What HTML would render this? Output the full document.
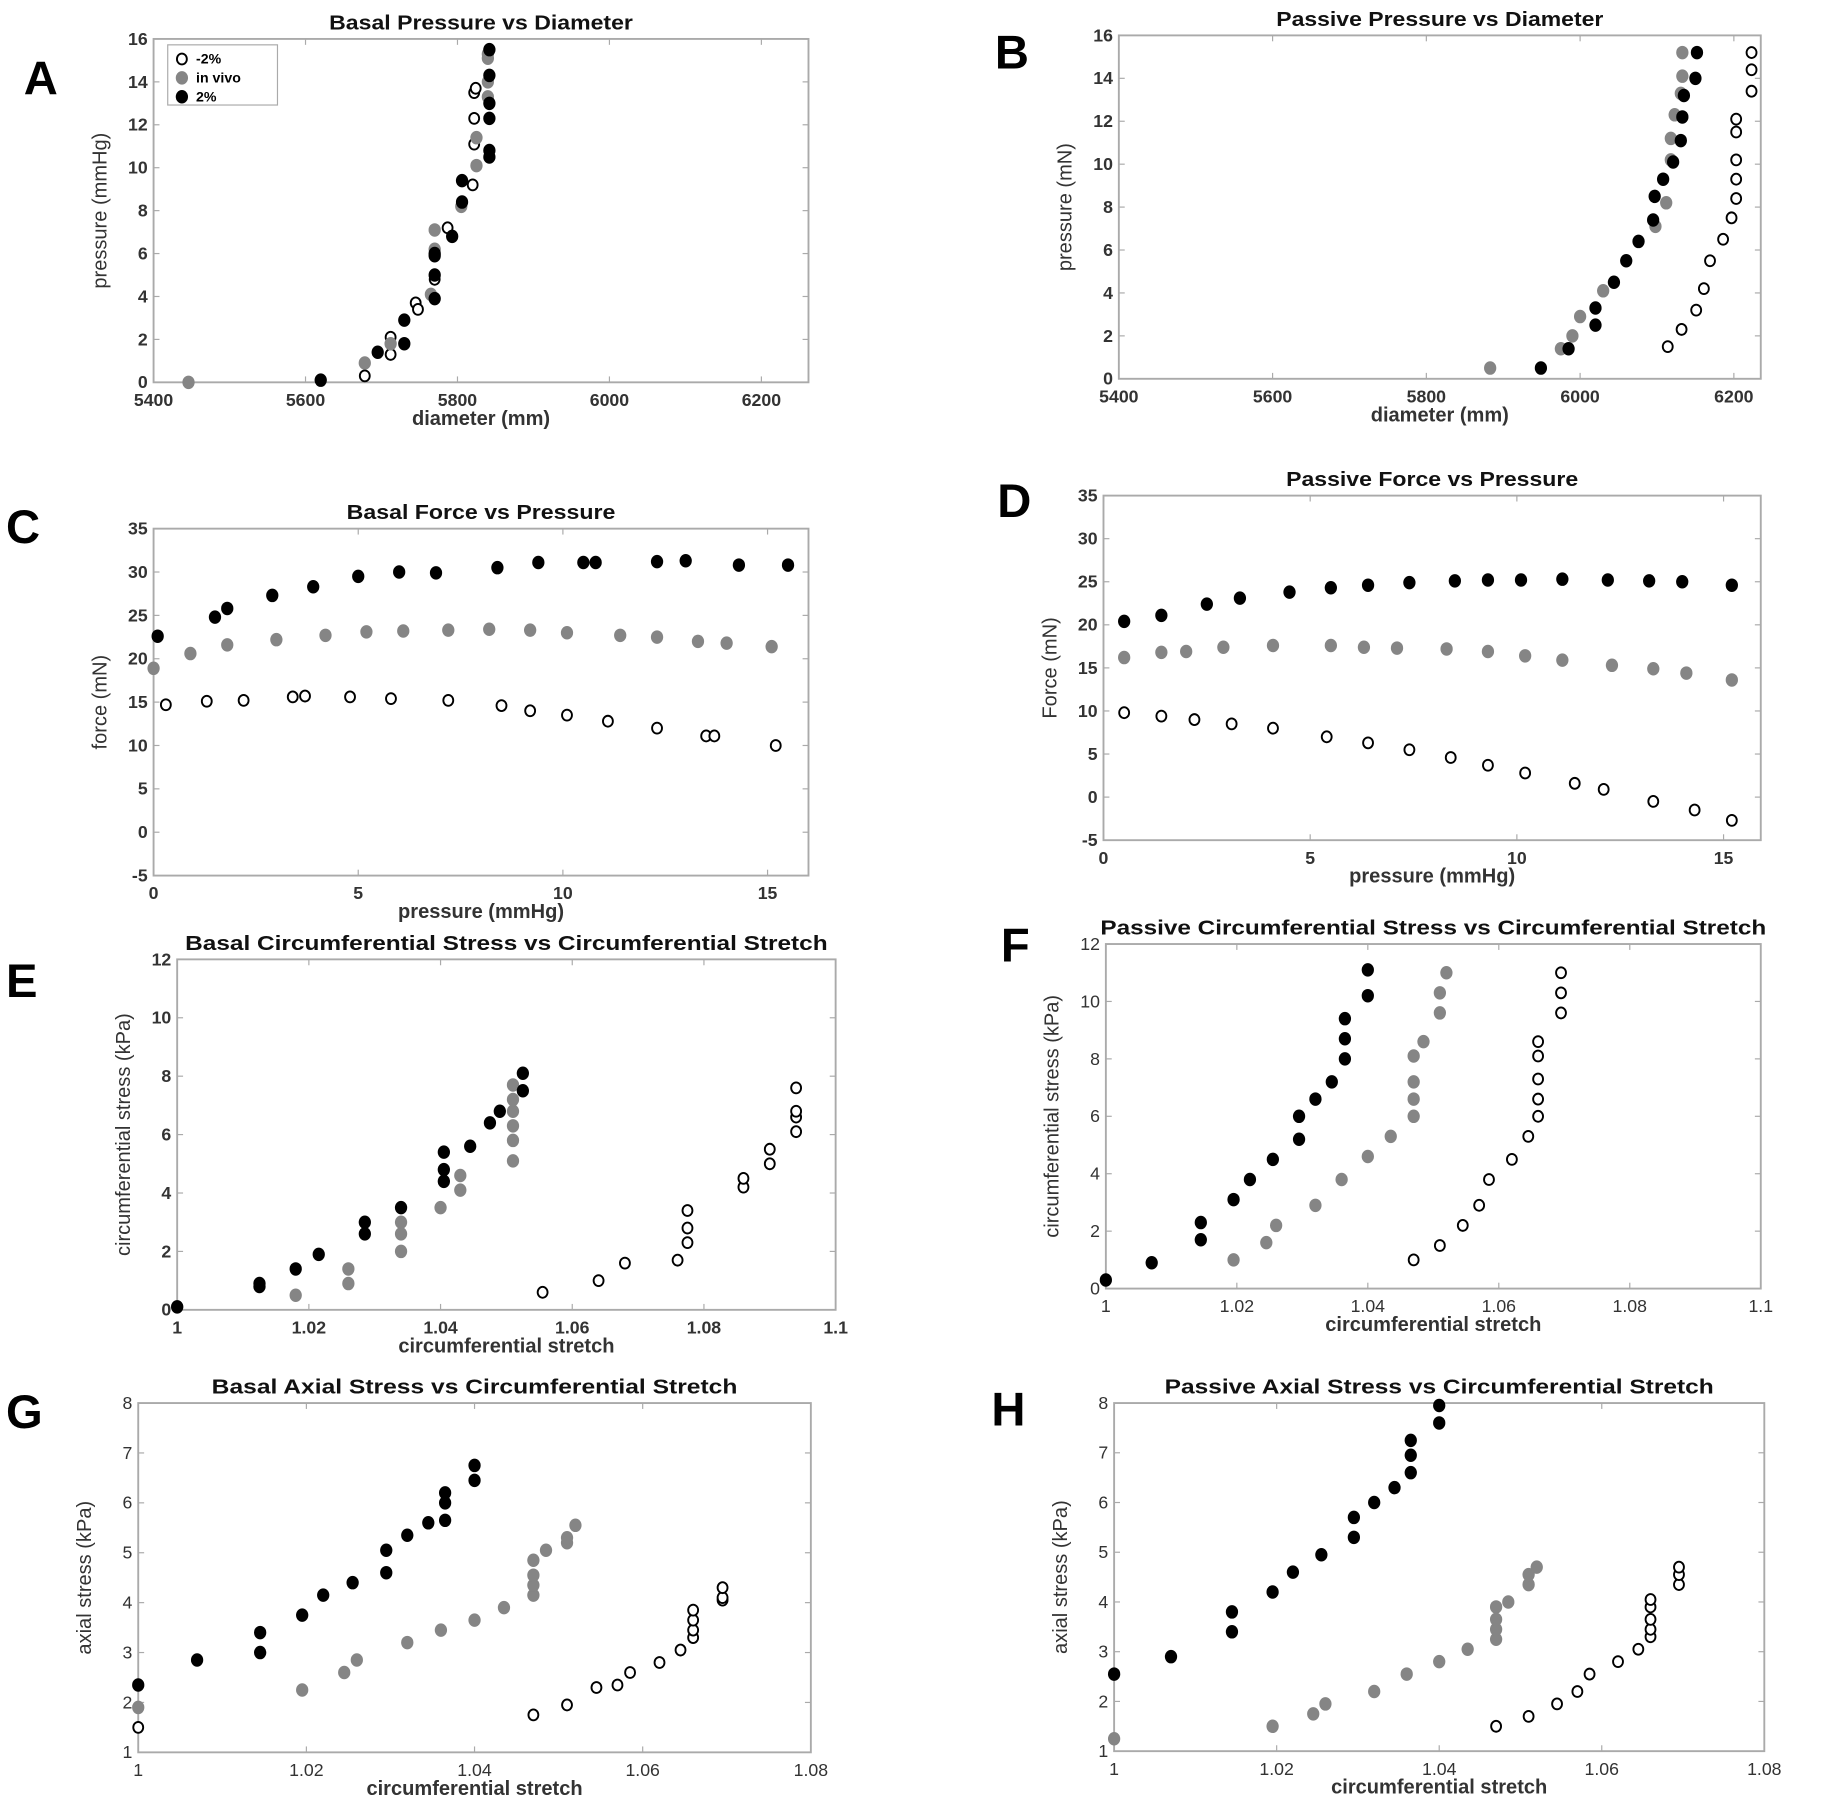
<!DOCTYPE html>
<html><head><meta charset="utf-8"><style>
html,body{margin:0;padding:0;background:#fff}
svg{display:block}
text{font-family:"Liberation Sans",sans-serif}
</style></head><body>
<svg id="fig" width="1840" height="1796" viewBox="0 0 1559 1522" xmlns="http://www.w3.org/2000/svg"></svg>
<script>
// ---- Data arrays ----
const A_neg=[[5678,0.3],[5712,1.3],[5712,2.1],[5745,3.7],[5748,3.4],[5770,4.8],[5787,7.2],[5820,9.2],[5822,11.1],[5822,12.3],[5822,13.5],[5824,13.7]];
const A_viv=[[5446,0],[5678,0.9],[5712,1.8],[5765,4.1],[5770,6.2],[5770,7.1],[5805,8.2],[5825,10.1],[5825,11.4],[5840,13.3],[5840,14],[5840,15.1],[5840,15.3]];
const A_pos=[[5620,0.1],[5695,1.4],[5730,1.8],[5730,2.9],[5770,3.9],[5770,5],[5770,5.9],[5770,6],[5793,6.8],[5806,8.4],[5806,9.4],[5842,10.5],[5842,10.8],[5842,12.3],[5842,13],[5842,14.3],[5842,15.5]];
const B_neg=[[6114,1.5],[6132,2.3],[6151,3.2],[6161,4.2],[6169,5.5],[6186,6.5],[6197,7.5],[6203,8.4],[6203,9.3],[6203,10.2],[6203,11.5],[6203,12.1],[6223,13.4],[6223,14.4],[6223,15.2]];
const B_viv=[[5883,0.5],[5975,1.4],[5990,2.0],[6000,2.9],[6030,4.1],[6098,7.1],[6112,8.2],[6118,10.2],[6118,11.2],[6123,12.3],[6131,13.3],[6133,14.1],[6133,15.2]];
const B_pos=[[5949,0.5],[5985,1.4],[6020,2.5],[6020,3.3],[6044,4.5],[6060,5.5],[6076,6.4],[6095,7.4],[6097,8.5],[6108,9.3],[6121,10.1],[6131,11.1],[6133,12.2],[6135,13.2],[6150,14],[6152,15.2]];
const C_neg=[[0.3,14.7],[1.3,15.1],[2.2,15.2],[3.4,15.6],[3.7,15.7],[4.8,15.6],[5.8,15.4],[7.2,15.2],[8.5,14.6],[9.2,14],[10.1,13.5],[11.1,12.8],[12.3,12],[13.5,11.1],[13.7,11.1],[15.2,10]];
const C_viv=[[0,18.9],[0.9,20.6],[1.8,21.6],[3,22.2],[4.2,22.7],[5.2,23.1],[6.1,23.2],[7.2,23.3],[8.2,23.4],[9.2,23.3],[10.1,23],[11.4,22.7],[12.3,22.5],[13.3,22],[14,21.8],[15.1,21.4]];
const C_pos=[[0.1,22.6],[1.5,24.8],[1.8,25.8],[2.9,27.3],[3.9,28.3],[5,29.5],[6,30],[6.9,29.9],[8.4,30.5],[9.4,31.1],[10.5,31.1],[10.8,31.1],[12.3,31.2],[13,31.3],[14.3,30.8],[15.5,30.8]];
const D_neg=[[0.5,9.8],[1.4,9.4],[2.2,9],[3.1,8.5],[4.1,8],[5.4,7],[6.4,6.3],[7.4,5.5],[8.4,4.6],[9.3,3.7],[10.2,2.8],[11.4,1.6],[12.1,0.9],[13.3,-0.5],[14.3,-1.5],[15.2,-2.7]];
const D_viv=[[0.5,16.2],[1.4,16.8],[2,16.9],[2.9,17.4],[4.1,17.6],[5.5,17.6],[6.3,17.4],[7.1,17.3],[8.3,17.2],[9.3,16.9],[10.2,16.4],[11.1,15.9],[12.3,15.3],[13.3,14.9],[14.1,14.4],[15.2,13.6]];
const D_pos=[[0.5,20.4],[1.4,21.1],[2.5,22.4],[3.3,23.1],[4.5,23.8],[5.5,24.3],[6.4,24.6],[7.4,24.9],[8.5,25.1],[9.3,25.2],[10.1,25.2],[11.1,25.3],[12.2,25.2],[13.2,25.1],[14,25],[15.2,24.6]];
const E_neg=[[1.0555,0.6],[1.064,1.0],[1.068,1.6],[1.076,1.7],[1.0775,2.3],[1.0775,2.8],[1.0775,3.4],[1.086,4.2],[1.086,4.5],[1.090,5.0],[1.090,5.5],[1.094,6.1],[1.094,6.6],[1.094,6.8],[1.094,7.6]];
const E_viv=[[1.0,0.1],[1.018,0.5],[1.026,0.9],[1.026,1.4],[1.034,2.0],[1.034,2.6],[1.034,3.0],[1.040,3.5],[1.043,4.1],[1.043,4.6],[1.051,5.1],[1.051,5.8],[1.051,6.3],[1.051,6.8],[1.051,7.2],[1.051,7.7]];
const E_pos=[[1.0,0.1],[1.0125,0.8],[1.0125,0.9],[1.018,1.4],[1.0215,1.9],[1.0285,2.6],[1.0285,3.0],[1.034,3.5],[1.0405,4.4],[1.0405,4.8],[1.0405,5.4],[1.0445,5.6],[1.0475,6.4],[1.049,6.8],[1.0525,7.5],[1.0525,8.1]];
const F_neg=[[1.047,1.0],[1.051,1.5],[1.0545,2.2],[1.057,2.9],[1.0585,3.8],[1.062,4.5],[1.0645,5.3],[1.066,6.0],[1.066,6.6],[1.066,7.3],[1.066,8.1],[1.066,8.6],[1.0695,9.6],[1.0695,10.3],[1.0695,11.0]];
const F_viv=[[1.0195,1.0],[1.0245,1.6],[1.026,2.2],[1.032,2.9],[1.036,3.8],[1.040,4.6],[1.0435,5.3],[1.047,6.0],[1.047,6.6],[1.047,7.2],[1.047,8.1],[1.0485,8.6],[1.051,9.6],[1.051,10.3],[1.052,11.0]];
const F_pos=[[1.0,0.3],[1.007,0.9],[1.0145,1.7],[1.0145,2.3],[1.0195,3.1],[1.022,3.8],[1.0255,4.5],[1.0295,5.2],[1.0295,6.0],[1.032,6.6],[1.0345,7.2],[1.0365,8.0],[1.0365,8.7],[1.0365,9.4],[1.040,10.2],[1.040,11.1]];
const G_neg=[[1.0,1.5],[1.047,1.75],[1.051,1.95],[1.0545,2.3],[1.057,2.35],[1.0585,2.6],[1.062,2.8],[1.0645,3.05],[1.066,3.3],[1.066,3.45],[1.066,3.65],[1.066,3.85],[1.0695,4.05],[1.0695,4.1],[1.0695,4.3]];
const G_viv=[[1.0,1.9],[1.0195,2.25],[1.0245,2.6],[1.026,2.85],[1.032,3.2],[1.036,3.45],[1.040,3.65],[1.0435,3.9],[1.047,4.15],[1.047,4.35],[1.047,4.55],[1.047,4.85],[1.0485,5.05],[1.051,5.2],[1.051,5.3],[1.052,5.55]];
const G_pos=[[1.0,2.35],[1.007,2.85],[1.0145,3.0],[1.0145,3.4],[1.0195,3.75],[1.022,4.15],[1.0255,4.4],[1.0295,4.6],[1.0295,5.05],[1.032,5.35],[1.0345,5.6],[1.0365,5.65],[1.0365,6.0],[1.0365,6.2],[1.040,6.45],[1.040,6.75]];
const H_neg=[[1.047,1.5],[1.051,1.7],[1.0545,1.95],[1.057,2.2],[1.0585,2.55],[1.062,2.8],[1.0645,3.05],[1.066,3.3],[1.066,3.45],[1.066,3.65],[1.066,3.9],[1.066,4.05],[1.0695,4.35],[1.0695,4.55],[1.0695,4.7]];
const H_viv=[[1.0,1.25],[1.0195,1.5],[1.0245,1.75],[1.026,1.95],[1.032,2.2],[1.036,2.55],[1.040,2.8],[1.0435,3.05],[1.047,3.25],[1.047,3.45],[1.047,3.65],[1.047,3.9],[1.0485,4.0],[1.051,4.35],[1.051,4.55],[1.052,4.7]];
const H_pos=[[1.0,2.55],[1.007,2.9],[1.0145,3.4],[1.0145,3.8],[1.0195,4.2],[1.022,4.6],[1.0255,4.95],[1.0295,5.3],[1.0295,5.7],[1.032,6.0],[1.0345,6.3],[1.0365,6.6],[1.0365,6.95],[1.0365,7.25],[1.040,7.6],[1.040,7.95]];
const pressTicks=[0,2,4,6,8,10,12,14,16];
const diamTicks=[5400,5600,5800,6000,6200];
const forceTicks=[-5,0,5,10,15,20,25,30,35];
const pTicks=[0,5,10,15];
const stressTicks=[0,2,4,6,8,10,12];
const stretchTicks=[1,1.02,1.04,1.06,1.08,1.1];
const stretchTicks2=[1,1.02,1.04,1.06,1.08];
const axialTicks=[1,2,3,4,5,6,7,8];

const NS="http://www.w3.org/2000/svg";
const svg=document.getElementById('fig');
function mk(tag,attrs,parent,txt){const e=document.createElementNS(NS,tag);for(const k in attrs)e.setAttribute(k,attrs[k]);if(txt!==undefined)e.textContent=txt;(parent||svg).appendChild(e);return e;}

const panels=[
 {id:'a',letter:'A',lx:20,ly:80,box:[130,33,685,324],xd:[5400,6262],yd:[0,16],xt:diamTicks,yt:pressTicks,title:'Basal Pressure vs Diameter',xl:'diameter (mm)',yl:'pressure (mmHg)',s:[A_neg,A_viv,A_pos],legend:true,bold:true},
 {id:'b',letter:'B',lx:843,ly:58,box:[948,30,1492,321],xd:[5400,6235],yd:[0,16],xt:diamTicks,yt:pressTicks,title:'Passive Pressure vs Diameter',xl:'diameter (mm)',yl:'pressure (mN)',s:[B_neg,B_viv,B_pos],bold:true},
 {id:'c',letter:'C',lx:5,ly:460,box:[130,448,685,742],xd:[0,16],yd:[-5,35],xt:pTicks,yt:forceTicks,title:'Basal Force vs Pressure',xl:'pressure (mmHg)',yl:'force (mN)',s:[C_neg,C_viv,C_pos],bold:true},
 {id:'d',letter:'D',lx:845,ly:438,box:[935,420,1492,712],xd:[0,15.9],yd:[-5,35],xt:pTicks,yt:forceTicks,title:'Passive Force vs Pressure',xl:'pressure (mmHg)',yl:'Force (mN)',s:[D_neg,D_viv,D_pos],bold:true},
 {id:'e',letter:'E',lx:5,ly:845,box:[150,813,708,1110],xd:[1,1.1],yd:[0,12],xt:stretchTicks,yt:stressTicks,title:'Basal Circumferential Stress vs Circumferential Stretch',xl:'circumferential stretch',yl:'circumferential stress (kPa)',s:[E_neg,E_viv,E_pos],bold:true},
 {id:'f',letter:'F',lx:848,ly:815,box:[937,800,1492,1092],xd:[1,1.1],yd:[0,12],xt:stretchTicks,yt:stressTicks,title:'Passive Circumferential Stress vs Circumferential Stretch',xl:'circumferential stretch',yl:'circumferential stress (kPa)',s:[F_neg,F_viv,F_pos],bold:false},
 {id:'g',letter:'G',lx:5,ly:1210,box:[117,1189,687,1485],xd:[1,1.08],yd:[1,8],xt:stretchTicks2,yt:axialTicks,title:'Basal Axial Stress vs Circumferential Stretch',xl:'circumferential stretch',yl:'axial stress (kPa)',s:[G_neg,G_viv,G_pos],bold:false},
 {id:'h',letter:'H',lx:840,ly:1208,box:[944,1189,1495,1484],xd:[1,1.08],yd:[1,8],xt:stretchTicks2,yt:axialTicks,title:'Passive Axial Stress vs Circumferential Stretch',xl:'circumferential stretch',yl:'axial stress (kPa)',s:[H_neg,H_viv,H_pos],bold:false}
];
const styles=[{fill:'#fff',stroke:'#000',sw:1.6,r:4.2},{fill:'#858585',stroke:'#858585',sw:0,r:5.2},{fill:'#000',stroke:'#000',sw:0,r:5.2}];
const snames=['minus-2pct','in-vivo','plus-2pct'];

panels.forEach(p=>{
 const g=mk('g',{});
 
 
 const [x0,y0,x1,y1]=p.box;
 const sx=v=>x0+(v-p.xd[0])/(p.xd[1]-p.xd[0])*(x1-x0);
 const sy=v=>y1-(v-p.yd[0])/(p.yd[1]-p.yd[0])*(y1-y0);
 const L=mk('text',{x:p.lx,y:p.ly,'font-size':40,'font-weight':'bold'},g,p.letter);
 
 
 const T=mk('text',{x:(x0+x1)/2,y:y0-8,'font-size':17,'font-weight':'bold','text-anchor':'middle',fill:'#111',textLength:p.title.length*9.9,lengthAdjust:'spacingAndGlyphs'},g,p.title);
 
 
 const bx=mk('rect',{x:x0,y:y0,width:x1-x0,height:y1-y0,fill:'none',stroke:'#aaa','stroke-width':1.6},g);
 
 
 const fw=p.bold?'bold':'normal';
 p.xt.forEach(t=>{const X=sx(t);
  mk('line',{x1:X,x2:X,y1:y1,y2:y1-5,stroke:'#aaa'},g);mk('line',{x1:X,x2:X,y1:y0,y2:y0+5,stroke:'#aaa'},g);
  const tx=mk('text',{x:X,y:y1+20,'font-size':15,'font-weight':fw,'text-anchor':'middle',fill:'#333'},g,String(t));
  
  });
 p.yt.forEach(t=>{const Y=sy(t);
  mk('line',{x1:x0,x2:x0+5,y1:Y,y2:Y,stroke:'#aaa'},g);mk('line',{x1:x1,x2:x1-5,y1:Y,y2:Y,stroke:'#aaa'},g);
  const ty=mk('text',{x:x0-5,y:Y+5,'font-size':15,'font-weight':fw,'text-anchor':'end',fill:'#333'},g,String(t));
  
  });
 const xl=mk('text',{x:(x0+x1)/2,y:y1+36,'font-size':17,'font-weight':'bold','text-anchor':'middle',fill:'#333'},g,p.xl);
 
 
 const yc=(y0+y1)/2, yx=x0-40;
 const yl=mk('text',{x:yx,y:yc,'font-size':17,'text-anchor':'middle',fill:'#333',transform:`rotate(-90 ${yx} ${yc})`},g,p.yl);
 
 
 p.s.forEach((ser,i)=>{const st=styles[i];
  ser.forEach(d=>{
   const m=mk('ellipse',{cx:sx(d[0]),cy:sy(d[1]),rx:st.r,ry:st.r*1.1,fill:st.fill,stroke:st.stroke,'stroke-width':st.sw},g);
   
   
  });});
 if(p.legend){
  const lg=mk('g',{},g);
  
  
  mk('rect',{x:142,y:38,width:93,height:51,fill:'#fff',stroke:'#aaa'},lg);
  ['-2%','in vivo','2%'].forEach((lab,i)=>{const st=styles[i];const Y=50+i*16;
   mk('ellipse',{cx:154,cy:Y,rx:st.r,ry:st.r*1.1,fill:st.fill,stroke:st.stroke,'stroke-width':st.sw},lg);
   const t=mk('text',{x:166,y:Y+4,'font-size':12,'font-weight':'bold'},lg,lab);
   
   });
 }
});
</script>
</body></html>
